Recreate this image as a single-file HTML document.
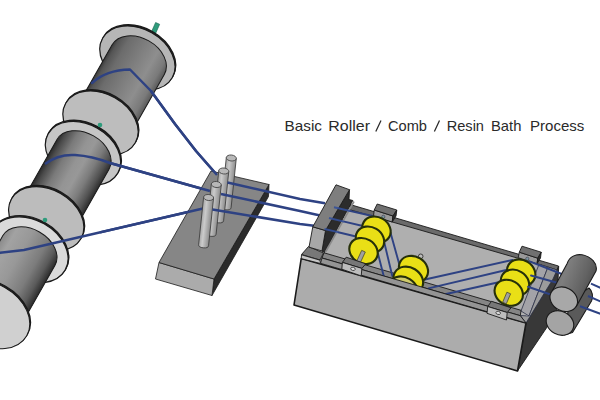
<!DOCTYPE html>
<html><head><meta charset="utf-8"><title>Basic Roller / Comb / Resin Bath Process</title>
<style>html,body{margin:0;padding:0;background:#fff;}svg{display:block}</style></head>
<body>
<svg width="600" height="400" viewBox="0 0 600 400">
<defs>
<linearGradient id="pin" x1="0" y1="0" x2="1" y2="0"><stop offset="0" stop-color="#a6a6a6"/><stop offset="0.35" stop-color="#cbcbcb"/><stop offset="1" stop-color="#8c8c8c"/></linearGradient>
</defs>
<rect width="600" height="400" fill="#fff"/>
<defs><linearGradient id="core0" gradientUnits="objectBoundingBox" x1="0" y1="0" x2="1" y2="0"><stop offset="0" stop-color="#3a3a3a"/><stop offset="0.06" stop-color="#555"/><stop offset="0.2" stop-color="#6c6c6c"/><stop offset="0.5" stop-color="#808080"/><stop offset="0.72" stop-color="#8e8e8e"/><stop offset="0.9" stop-color="#7a7a7a"/><stop offset="1" stop-color="#5a5a5a"/></linearGradient><linearGradient id="core2" gradientUnits="objectBoundingBox" x1="0" y1="0" x2="1" y2="0"><stop offset="0" stop-color="#2a2a2a"/><stop offset="0.08" stop-color="#4a4a4a"/><stop offset="0.25" stop-color="#7a7a7a"/><stop offset="0.45" stop-color="#949494"/><stop offset="0.58" stop-color="#989898"/><stop offset="0.75" stop-color="#7c7c7c"/><stop offset="0.9" stop-color="#525252"/><stop offset="1" stop-color="#2c2c2c"/></linearGradient><linearGradient id="core4" gradientUnits="objectBoundingBox" x1="0" y1="0" x2="1" y2="0"><stop offset="0" stop-color="#8a8a8a"/><stop offset="0.15" stop-color="#a2a2a2"/><stop offset="0.4" stop-color="#989898"/><stop offset="0.7" stop-color="#7c7c7c"/><stop offset="0.87" stop-color="#5a5a5a"/><stop offset="0.96" stop-color="#3a3a3a"/><stop offset="1" stop-color="#2a2a2a"/></linearGradient></defs>
<rect x="-2.2" y="-5" width="4.4" height="10" fill="#2f9c7c" stroke="#1c6b55" stroke-width="0.6" transform="translate(155.6 28) rotate(24)"/>
<ellipse cx="138.14" cy="56.70" rx="40.0" ry="29.0" transform="rotate(29.6 138.14 56.70)" fill="#222" stroke="#1a1a1a" stroke-width="1.2" /><ellipse cx="137.40" cy="58.00" rx="40.0" ry="29.0" transform="rotate(29.6 137.40 58.00)" fill="#b6b6b6" stroke="#1a1a1a" stroke-width="1.2" /><g transform="translate(138.21 59.61) rotate(29.59)"><path d="M-30 0 A30 21.5 0 0 1 30 0 L30 73.74 L-30 73.74 Z" fill="url(#core0)" stroke="#1a1a1a" stroke-width="1"/></g>

<g fill="none" stroke="#2e4283" stroke-width="2.5" stroke-linejoin="round" stroke-linecap="round">
<path d="M92 83 Q106 70 130 69.5 L151 91 L175 124 L196 151 L217 175"/>
</g>
<ellipse cx="101.24" cy="121.69" rx="40.0" ry="29.0" transform="rotate(29.6 101.24 121.69)" fill="#222" stroke="#1a1a1a" stroke-width="1.2" /><ellipse cx="100.50" cy="123.00" rx="40.0" ry="29.0" transform="rotate(29.6 100.50 123.00)" fill="#bdbdbd" stroke="#1a1a1a" stroke-width="1.2" />
<ellipse cx="83.74" cy="152.09" rx="40.0" ry="29.0" transform="rotate(29.6 83.74 152.09)" fill="#222" stroke="#1a1a1a" stroke-width="1.2" /><ellipse cx="83.00" cy="153.40" rx="40.0" ry="29.0" transform="rotate(29.6 83.00 153.40)" fill="#c6c6c6" stroke="#1a1a1a" stroke-width="1.2" /><g transform="translate(82.94 154.52) rotate(29.59)"><path d="M-30 0 A30 21.5 0 0 1 30 0 L30 73.93 L-30 73.93 Z" fill="url(#core2)" stroke="#1a1a1a" stroke-width="1"/></g>
<circle cx="100" cy="125" r="2.3" fill="#2f9c7c"/>
<path d="M45 164 Q58 154 75 155 Q92 156 110 163 L210 191" fill="none" stroke="#2e4283" stroke-width="2.5"/>
<ellipse cx="46.99" cy="217.39" rx="40.0" ry="29.0" transform="rotate(29.6 46.99 217.39)" fill="#222" stroke="#1a1a1a" stroke-width="1.2" /><ellipse cx="46.25" cy="218.70" rx="40.0" ry="29.0" transform="rotate(29.6 46.25 218.70)" fill="#bcbcbc" stroke="#1a1a1a" stroke-width="1.2" />
<ellipse cx="30.04" cy="248.50" rx="41.2" ry="29.87" transform="rotate(29.6 30.04 248.50)" fill="#222" stroke="#1a1a1a" stroke-width="1.2" /><ellipse cx="29.30" cy="249.80" rx="41.2" ry="29.87" transform="rotate(29.6 29.30 249.80)" fill="#dadada" stroke="#1a1a1a" stroke-width="1.2" /><g transform="translate(28.81 250.67) rotate(29.59)"><path d="M-30 0 A30 21.5 0 0 1 30 0 L30 74.96 L-30 74.96 Z" fill="url(#core4)" stroke="#1a1a1a" stroke-width="1"/></g>
<circle cx="45" cy="220" r="2.3" fill="#2f9c7c"/>
<path d="M-2 253 L24 250 L203 208.5" fill="none" stroke="#2e4283" stroke-width="2.5"/>
<ellipse cx="-9.76" cy="313.19" rx="42.800000000000004" ry="31.03" transform="rotate(29.6 -9.76 313.19)" fill="#222" stroke="#1a1a1a" stroke-width="1.2" /><ellipse cx="-10.50" cy="314.50" rx="42.800000000000004" ry="31.03" transform="rotate(29.6 -10.50 314.50)" fill="#d0d0d0" stroke="#1a1a1a" stroke-width="1.0" />

<!-- comb block -->
<g stroke="#1a1a1a" stroke-width="0.8" stroke-linejoin="round">
<polygon points="269,184.5 268.5,196.5 212,295.5 214,279" fill="#2b2b2b"/>
<polygon points="159,262.5 214,279 212,295.5 155.5,279" fill="#ababab"/>
<polygon points="211,171 269,184.5 214,279 159,262.5" fill="#868686"/>
</g>

<path d="M151 91 L175 124 L196 151 L217 175" fill="none" stroke="#2e4283" stroke-width="2.5"/><path d="M110 163 L210 191" fill="none" stroke="#2e4283" stroke-width="2.5"/><path d="M100 232.4 L203 208.5" fill="none" stroke="#2e4283" stroke-width="2.5"/><g transform="translate(231.3 0) rotate(6 0 158)"><path d="M-5.0 158 L-5.0 207.5 A5.0 2.6 0 0 0 5.0 207.5 L5.0 158 Z" fill="url(#pin)" stroke="#3a3a3a" stroke-width="0.8"/>
<ellipse cx="0" cy="158" rx="5.0" ry="3.0" fill="#b8b8b8" stroke="#4a4a4a" stroke-width="0.9"/></g><g transform="translate(223.8 0) rotate(6 0 171)"><path d="M-5.0 171 L-5.0 220.5 A5.0 2.6 0 0 0 5.0 220.5 L5.0 171 Z" fill="url(#pin)" stroke="#3a3a3a" stroke-width="0.8"/>
<ellipse cx="0" cy="171" rx="5.0" ry="3.0" fill="#b8b8b8" stroke="#4a4a4a" stroke-width="0.9"/></g><path d="M227.5 182.5 L300 199 L325 203.3" fill="none" stroke="#2e4283" stroke-width="2.5"/><g transform="translate(216.3 0) rotate(6 0 184.5)"><path d="M-5.0 184.5 L-5.0 234 A5.0 2.6 0 0 0 5.0 234 L5.0 184.5 Z" fill="url(#pin)" stroke="#3a3a3a" stroke-width="0.8"/>
<ellipse cx="0" cy="184.5" rx="5.0" ry="3.0" fill="#b8b8b8" stroke="#4a4a4a" stroke-width="0.9"/></g><path d="M221 194 L300 211 L319 215.2" fill="none" stroke="#2e4283" stroke-width="2.5"/><g transform="translate(208.6 0) rotate(6 0 197.5)"><path d="M-5.0 197.5 L-5.0 245.5 A5.0 2.6 0 0 0 5.0 245.5 L5.0 197.5 Z" fill="url(#pin)" stroke="#3a3a3a" stroke-width="0.8"/>
<ellipse cx="0" cy="197.5" rx="5.0" ry="3.0" fill="#b8b8b8" stroke="#4a4a4a" stroke-width="0.9"/></g><path d="M212.5 209.5 L300 224 L314 225.7" fill="none" stroke="#2e4283" stroke-width="2.5"/>
<polygon points="318.0,262.0 351.0,207.0 545.0,264.0 524.0,322.0" fill="#afafaf" stroke="none"/><g stroke="#1a1a1a" stroke-width="0.9" stroke-linejoin="round"><polygon points="526.0,323.0 558.7,266.0 556.5,313.0 517.5,371.0" fill="#383838" /><polygon points="350.0,204.5 558.5,266.0 557.0,270.0 539.0,264.3 350.0,209.8" fill="#6a6a6a" /><polygon points="374.2,210.0 393.0,216.0 392.2,222.0 373.5,216.0" fill="#9a9a9a" /><polygon points="377.2,204.0 396.8,210.0 393.0,216.0 374.2,210.0" fill="#707070" /><polygon points="396.8,210.0 396.0,216.0 392.2,222.0 393.0,216.0" fill="#2e2e2e" /><polygon points="519.3,252.2 537.8,258.2 537.0,263.8 518.2,257.7" fill="#9a9a9a" /><polygon points="522.0,246.2 541.2,252.2 537.8,258.2 519.3,252.2" fill="#707070" /><polygon points="541.2,252.2 540.5,258.0 537.0,263.8 537.8,258.2" fill="#2e2e2e" /></g><g stroke="#2a2f45" stroke-width="0.8" stroke-linejoin="round"><polygon points="539.0,264.3 548.0,267.0 529.0,316.0 521.0,311.0" fill="#a3a3a8" /><polygon points="548.0,267.0 557.0,270.0 553.0,279.0 526.0,323.0 520.3,315.5 529.0,316.0" fill="#9c9c9c" /></g><g stroke="#1a1a1a" stroke-width="0.9" stroke-linejoin="round"><polygon points="324.0,252.8 521.0,310.3 520.3,315.7 322.0,258.0" fill="#858585" /></g><circle cx="420.7" cy="256.3" r="2.3" fill="#bbb" stroke="#333" stroke-width="0.9"/><circle cx="383.3" cy="216.8" r="1.6" fill="#7a98a0" stroke="#445" stroke-width="0.7"/><circle cx="527.3" cy="258.8" r="1.6" fill="#7a98a0" stroke="#445" stroke-width="0.7"/><g fill="none" stroke="#2e4283" stroke-width="1.9" stroke-linecap="round"><path d="M344 209.6 L372.5 216"/><path d="M339 220.4 L365 226.5"/><path d="M333 231 L356 236.5"/><path d="M390.6 233 L399.5 265"/><path d="M384.4 243 L392.3 276"/><path d="M377.8 253 L383.7 276"/><path d="M425 279.5 L512.5 260"/><path d="M428.5 288.3 L506.25 270"/><path d="M445 294.3 L497.5 282.5"/></g><ellipse cx="376.5" cy="229.5" rx="14.8" ry="12.3" transform="rotate(31 376.5 229.5)" fill="#e9df16" stroke="#26300a" stroke-width="2.1"/><ellipse cx="370" cy="239.5" rx="14.8" ry="12.3" transform="rotate(31 370 239.5)" fill="#e9df16" stroke="#26300a" stroke-width="2.1"/><ellipse cx="363.5" cy="251" rx="14.8" ry="12.3" transform="rotate(31 363.5 251)" fill="#e9df16" stroke="#26300a" stroke-width="2.1"/><polygon points="361.7,250.4 356.7,261.2 360.3,262.8 365.3,252.0" fill="#a0a0a0" stroke="#3a3a20" stroke-width="0.7"/><ellipse cx="413.5" cy="269.2" rx="15.2" ry="12.6" transform="rotate(31 413.5 269.2)" fill="#e9df16" stroke="#26300a" stroke-width="2.1"/><ellipse cx="408.3" cy="280.2" rx="15.5" ry="12.8" transform="rotate(31 408.3 280.2)" fill="#e9df16" stroke="#26300a" stroke-width="2.1"/><ellipse cx="403.2" cy="290" rx="15.5" ry="12.8" transform="rotate(31 403.2 290)" fill="#cfcb6a" stroke="#26300a" stroke-width="2.1"/><ellipse cx="521.2" cy="272.5" rx="14.8" ry="12.3" transform="rotate(31 521.2 272.5)" fill="#e9df16" stroke="#26300a" stroke-width="2.1"/><ellipse cx="515" cy="282.6" rx="14.8" ry="12.3" transform="rotate(31 515 282.6)" fill="#e9df16" stroke="#26300a" stroke-width="2.1"/><ellipse cx="508.75" cy="292.75" rx="14.8" ry="12.3" transform="rotate(31 508.75 292.75)" fill="#e9df16" stroke="#26300a" stroke-width="2.1"/><polygon points="506.9,292.2 502.7,302.2 506.3,303.8 510.6,293.8" fill="#a0a0a0" stroke="#3a3a20" stroke-width="0.7"/><g fill="none" stroke="#2e4283" stroke-width="1.9" stroke-linecap="round"><path d="M529.5 261.3 L561.75 274"/><path d="M531 275.5 L558 283"/><path d="M528 286.75 L552 295"/></g><polygon points="301.2,258.6 526.0,323.0 517.5,371.0 294.0,305.0" fill="#acacac" stroke="#1a1a1a" stroke-width="1.6" stroke-linejoin="round"/><g stroke="#1a1a1a" stroke-width="0.9" stroke-linejoin="round"><polygon points="322.0,258.0 520.3,315.7 526.0,323.0 320.5,263.3" fill="#949494" /><polygon points="308.5,246.5 301.5,254.5 320.0,260.0 323.5,253.0" fill="#787878" /><polygon points="301.5,254.8 320.0,260.2 320.5,263.5 301.2,258.6" fill="#c6c6c6" /><polygon points="346.2,257.2 365.8,263.8 361.9,268.4 342.4,262.4" fill="#777" /><polygon points="342.4,262.4 361.9,268.4 361.2,275.9 341.8,269.2" fill="#bdbdbd" /><ellipse cx="352.95" cy="268.85" rx="2.3" ry="1.6" fill="#ddd" stroke="#222" stroke-width="0.7" transform="rotate(15 352.95 268.85)"/><polygon points="491.5,301.3 511.0,307.8 507.2,312.5 487.7,306.5" fill="#777" /><polygon points="487.7,306.5 507.2,312.5 506.5,320.0 487.0,313.3" fill="#bdbdbd" /><ellipse cx="498.2" cy="312.90000000000003" rx="2.3" ry="1.6" fill="#ddd" stroke="#222" stroke-width="0.7" transform="rotate(15 498.2 312.90000000000003)"/></g><g stroke="#1a1a1a" stroke-width="0.9" stroke-linejoin="round"><polygon points="349.5,189.7 349.0,199.5 352.8,200.5 324.5,252.5 321.8,251.3 325.5,230.5" fill="#2c2c2c" /><path d="M354 201.5 L325.5 252" stroke="#8a8a8a" stroke-width="1.6" fill="none"/><polygon points="312.8,226.8 325.5,230.5 322.0,251.0 309.0,247.2" fill="#a8a8a8" /><polygon points="336.0,184.8 349.5,189.7 325.5,230.5 312.8,226.8" fill="#7e7e7e" /></g><g fill="none" stroke="#34509a" stroke-width="1.9" opacity="0.9"><path d="M334 207.3 L350 211"/><path d="M329 218 L344 221.6"/><path d="M324.5 229 L338 232.2"/></g><defs><linearGradient id="rol" x1="0" y1="0.25" x2="1" y2="0.7"><stop offset="0" stop-color="#6c6c6c"/><stop offset="0.3" stop-color="#7e7e7e"/><stop offset="0.7" stop-color="#626262"/><stop offset="1" stop-color="#444"/></linearGradient></defs><g stroke="#1a1a1a" stroke-width="1.1" stroke-linejoin="round"><path d="M564 335 L572.5 332.5 L591.5 301 C593.5 297 592.5 291 589 288 L570 300 Z" fill="#5a5a5a"/><ellipse cx="560" cy="323" rx="14.3" ry="11.7" transform="rotate(28 560 323)" fill="#a4a4a4"/><path d="M551.2 293 L567.3 263.2 C569.5 256.5 576 253.8 582 254.8 C591 256.5 598 263.5 596 271 L576.3 306.6 Z" fill="url(#rol)"/><ellipse cx="563.75" cy="299.25" rx="14.3" ry="11.7" transform="rotate(28 563.75 299.25)" fill="#a8a8a8"/></g><g fill="none" stroke="#2e4283" stroke-width="2.0"><path d="M591 283.7 L601 288"/><path d="M588 296 L601 301.7"/><path d="M580 306.2 L601 314"/></g>
<g font-family="Liberation Sans, sans-serif" font-size="14.2" fill="#2a2a2a"><text x="284.6" y="130.7" textLength="37.4" lengthAdjust="spacingAndGlyphs">Basic</text><text x="328.3" y="130.7" textLength="41.7" lengthAdjust="spacingAndGlyphs">Roller</text><text x="388" y="130.7" textLength="39.0" lengthAdjust="spacingAndGlyphs">Comb</text><text x="446.7" y="130.7" textLength="37.3" lengthAdjust="spacingAndGlyphs">Resin</text><text x="491" y="130.7" textLength="30.4" lengthAdjust="spacingAndGlyphs">Bath</text><text x="530" y="130.7" textLength="54.3" lengthAdjust="spacingAndGlyphs">Process</text></g><path d="M375.8 131.6 L381 120.4 M434.4 131.6 L439.5 120.6" stroke="#2a2a2a" stroke-width="1.25" fill="none"/>
</svg>
</body></html>
